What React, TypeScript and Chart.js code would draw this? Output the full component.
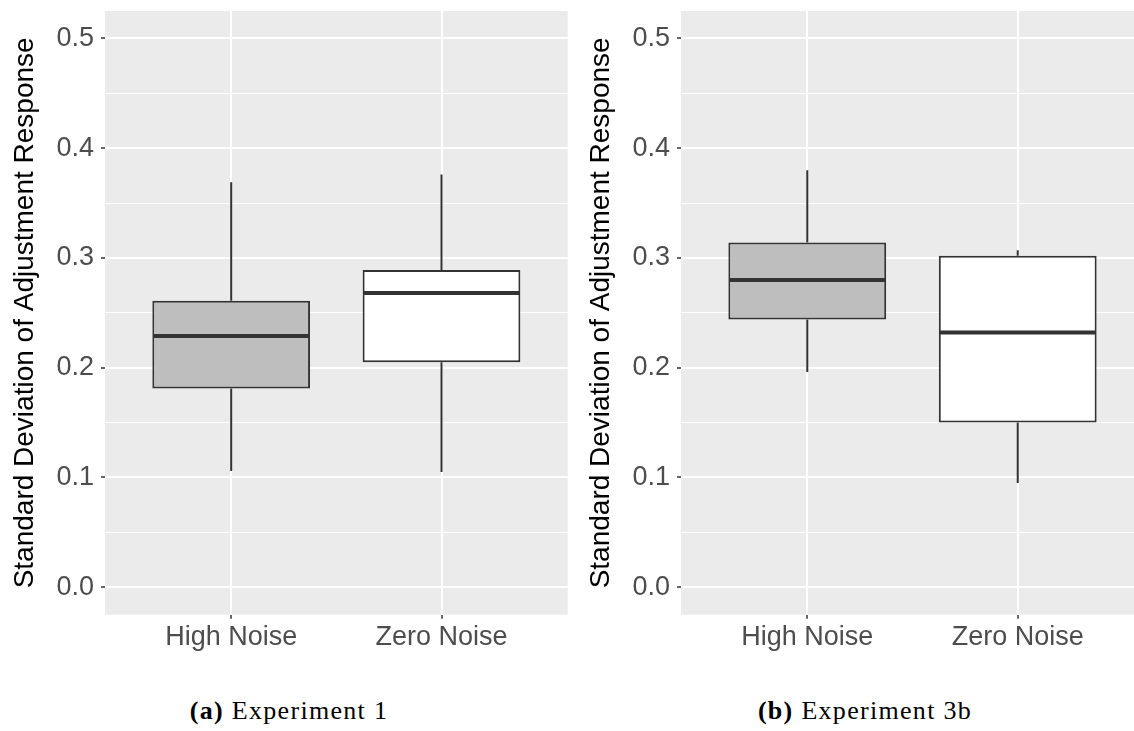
import React, { useEffect, useRef } from "react";
import { Chart, registerables } from "chart.js";

Chart.register(...registerables);

// ---------- data ----------
const categories = ["High Noise", "Zero Noise"];
const positions = [1, 2];
const boxFills = ["#BEBEBE", "#FFFFFF"];

const exp1Min = [0.106, 0.105];
const exp1Q1 = [0.181, 0.205];
const exp1Median = [0.229, 0.268];
const exp1Q3 = [0.261, 0.289];
const exp1Max = [0.369, 0.376];

const exp3bMin = [0.196, 0.095];
const exp3bQ1 = [0.244, 0.15];
const exp3bMedian = [0.28, 0.232];
const exp3bQ3 = [0.314, 0.302];
const exp3bMax = [0.38, 0.307];

const yMajorTicks = [0, 0.1, 0.2, 0.3, 0.4, 0.5];
const yTickLabels = ["0.0", "0.1", "0.2", "0.3", "0.4", "0.5"];
const yMinorTicks = [0.05, 0.15, 0.25, 0.35, 0.45];

const yTitle = "Standard Deviation of Adjustment Response";

// ---------- helpers ----------
const SANS = "'Liberation Sans', Arial, Helvetica, sans-serif";
const INK = "#333333";

type Stats = { min: number[]; q1: number[]; med: number[]; q3: number[]; max: number[] };

function isMajor(v: number) {
  return yMajorTicks.some((m) => Math.abs(m - v) < 1e-9);
}

function Panel(props: {
  stats: Stats;
  left: number;
  width: number;
  axisWidth: number;
  padRight: number;
}) {
  const ref = useRef<HTMLCanvasElement | null>(null);
  useEffect(() => {
    const canvas = ref.current!;
    const { stats, axisWidth, padRight } = props;
    const height = 660;
    const plotBottom = 614.7;

    const whiskers: { x: number; y: number | null }[] = [];
    positions.forEach((x, i) => {
      whiskers.push({ x, y: stats.max[i] });
      whiskers.push({ x, y: stats.q3[i] });
      whiskers.push({ x, y: null });
      whiskers.push({ x, y: stats.q1[i] });
      whiskers.push({ x, y: stats.min[i] });
      whiskers.push({ x, y: null });
    });

    const bgPlugin = {
      id: "bg",
      beforeDraw(chart: any) {
        const { ctx, chartArea: a } = chart;
        ctx.save();
        ctx.fillStyle = "#EBEBEB";
        ctx.fillRect(a.left, a.top, a.right - a.left, a.bottom - a.top);
        ctx.restore();
      },
    };

    const medianPlugin = {
      id: "median",
      afterDatasetsDraw(chart: any) {
        const meta = chart.getDatasetMeta(0);
        const ys = chart.scales.y;
        const ctx = chart.ctx;
        ctx.save();
        ctx.strokeStyle = INK;
        ctx.lineWidth = 4;
        meta.data.forEach((el: any, i: number) => {
          const { x, width } = el.getProps(["x", "width"], true);
          const y = ys.getPixelForValue(stats.med[i]);
          ctx.beginPath();
          ctx.moveTo(x - width / 2 + 1, y);
          ctx.lineTo(x + width / 2 - 1, y);
          ctx.stroke();
        });
        ctx.restore();
      },
    };

    const titlePlugin = {
      id: "ytitle",
      afterDraw(chart: any) {
        const { ctx, chartArea: a } = chart;
        ctx.save();
        ctx.translate(a.left - 72, (a.top + a.bottom) / 2);
        ctx.rotate(-Math.PI / 2);
        ctx.font = `28px ${SANS}`;
        ctx.fillStyle = "#000000";
        ctx.textAlign = "center";
        ctx.textBaseline = "alphabetic";
        ctx.fillText(yTitle, 0, 0);
        ctx.restore();
      },
    };

    const chart = new Chart(canvas, {
      type: "bar",
      data: {
        datasets: [
          {
            type: "bar",
            data: positions.map((x, i) => ({ x, y: [stats.q1[i], stats.q3[i]] })) as any,
            backgroundColor: boxFills,
            borderColor: INK,
            borderWidth: 2,
            borderSkipped: false,
            barPercentage: 0.75,
            categoryPercentage: 1,
            order: 1,
          } as any,
          {
            type: "line",
            data: whiskers as any,
            borderColor: INK,
            borderWidth: 2,
            pointRadius: 0,
            spanGaps: false,
            fill: false,
            order: 2,
          } as any,
        ],
      },
      options: {
        animation: false,
        responsive: false,
        maintainAspectRatio: false,
        events: [],
        layout: { padding: { top: 11, right: padRight, left: 0, bottom: 0 } },
        plugins: { legend: { display: false }, tooltip: { enabled: false }, title: { display: false } },
        scales: {
          x: {
            type: "linear",
            min: 0.4,
            max: 2.6,
            offset: false,
            afterBuildTicks: (ax: any) => {
              ax.ticks = positions.map((v) => ({ value: v }));
            },
            afterFit: (s: any) => {
              s.height = height - plotBottom;
              s.paddingLeft = 0;
              s.paddingRight = 0;
            },
            ticks: {
              callback: (v: any) => {
                const i = positions.indexOf(Number(v));
                return i >= 0 ? categories[i] : "";
              },
              font: { family: SANS, size: 27 },
              color: "#4D4D4D",
              padding: 3,
              maxRotation: 0,
              autoSkip: false,
            },
            grid: {
              offset: false,
              color: "#FFFFFF",
              lineWidth: 2,
              tickColor: INK,
              tickLength: 4,
              tickWidth: 1.5,
            } as any,
            border: { display: false },
          },
          y: {
            type: "linear",
            min: -0.025,
            max: 0.525,
            afterBuildTicks: (ax: any) => {
              ax.ticks = [...yMajorTicks, ...yMinorTicks].sort((a, b) => a - b).map((v) => ({ value: v }));
            },
            afterFit: (s: any) => {
              s.width = axisWidth;
              s.paddingTop = 0;
              s.paddingBottom = 0;
            },
            ticks: {
              callback: (v: any) => {
                const i = yMajorTicks.findIndex((m) => Math.abs(m - Number(v)) < 1e-9);
                return i >= 0 ? yTickLabels[i] : "";
              },
              font: { family: SANS, size: 27 },
              color: "#4D4D4D",
              padding: 7,
              autoSkip: false,
            },
            grid: {
              color: "#FFFFFF",
              lineWidth: (c: any) => (c.tick && isMajor(c.tick.value) ? 2 : 1),
              tickColor: (c: any) => (c.tick && isMajor(c.tick.value) ? INK : "rgba(0,0,0,0)"),
              tickLength: 4,
              tickWidth: 1.5,
            } as any,
            border: { display: false },
          },
        },
      } as any,
      plugins: [bgPlugin, medianPlugin, titlePlugin],
    });
    return () => chart.destroy();
  }, []);

  return (
    <canvas
      ref={ref}
      width={props.width}
      height={660}
      style={{ position: "absolute", left: props.left, top: 0, width: props.width, height: 660 }}
    />
  );
}

function Caption(props: { center: number; tag: string; text: string }) {
  return (
    <div
      style={{
        position: "absolute",
        left: props.center - 200,
        top: 696,
        width: 400,
        textAlign: "center",
        fontFamily: "'Liberation Serif', 'Times New Roman', serif",
        fontSize: 26,
        lineHeight: "30px",
        letterSpacing: "1.3px",
        color: "#000",
        whiteSpace: "nowrap",
      }}
    >
      <b>{props.tag}</b> {props.text}
    </div>
  );
}

export default function App() {
  const stats1: Stats = { min: exp1Min, q1: exp1Q1, med: exp1Median, q3: exp1Q3, max: exp1Max };
  const stats2: Stats = { min: exp3bMin, q1: exp3bQ1, med: exp3bMedian, q3: exp3bQ3, max: exp3bMax };
  return (
    <div
      style={{
        position: "absolute",
        left: 0,
        top: 0,
        width: 1134,
        height: 731,
        overflow: "hidden",
        background: "#FFFFFF",
      }}
    >
      <Panel stats={stats1} left={0} width={570} axisWidth={105} padRight={2.3} />
      <Panel stats={stats2} left={570} width={577} axisWidth={111} padRight={3} />
      <Caption center={289} tag="(a)" text="Experiment 1" />
      <Caption center={865} tag="(b)" text="Experiment 3b" />
    </div>
  );
}
